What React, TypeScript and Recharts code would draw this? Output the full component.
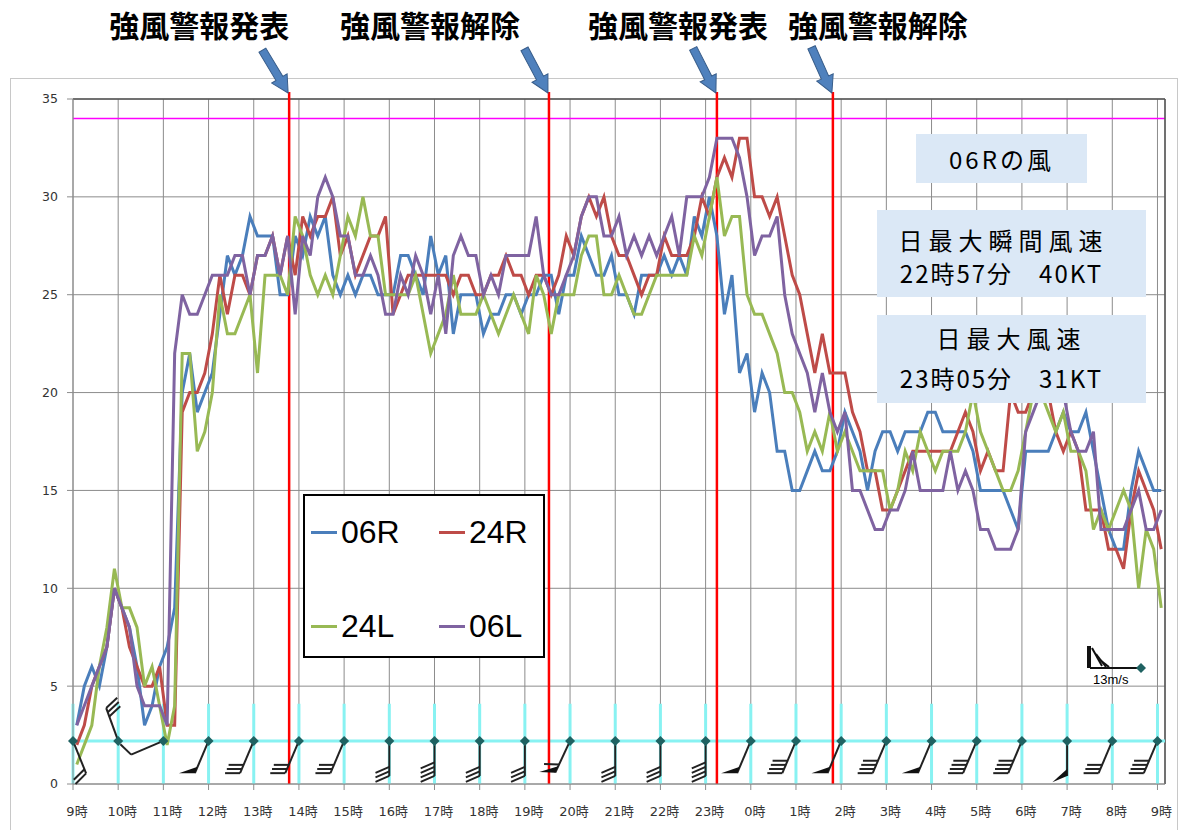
import React from "react";
import {
  ComposedChart,
  Line,
  XAxis,
  YAxis,
  CartesianGrid,
  ReferenceLine,
  ReferenceDot,
} from "recharts";

const HOUR_LABELS = [
  "9時", "10時", "11時", "12時", "13時", "14時", "15時", "16時", "17時", "18時",
  "19時", "20時", "21時", "22時", "23時", "0時", "1時", "2時", "3時", "4時",
  "5時", "6時", "7時", "8時", "9時",
];

// 10分毎の風速 (kt)  9時 -> 翌9時
const WIND_06R = [
  3, 5, 6, 5, 7, 10,
  9, 8, 6, 3, 4, 6,
  7, 9, 20, 22, 19, 20,
  21, 24, 27, 26, 27, 29,
  28, 28, 28, 25, 25, 28,
  27, 29, 28, 29, 26, 25,
  26, 25, 26, 26, 25, 25,
  25, 27, 27, 26, 25, 28,
  26, 27, 23, 25, 25, 25,
  23, 24, 24, 25, 25, 24,
  25, 25, 26, 26, 24, 26,
  26, 28, 27, 26, 26, 27,
  25, 25, 24, 26, 26, 26,
  27, 26, 27, 26, 29, 28,
  30, 28, 24, 26, 21, 22,
  19, 21, 20, 17, 17, 15,
  15, 16, 17, 16, 16, 17,
  19, 18, 17, 15, 17, 18,
  18, 17, 18, 18, 18, 19,
  19, 18, 18, 18, 18, 17,
  15, 15, 15, 15, 14, 13,
  17, 17, 17, 17, 18, 19,
  18, 18, 19, 17, 15, 13,
  12, 12, 15, 17, 16, 15,
  15,
];

const WIND_24R = [
  2, 3, 5, 6, 7, 10,
  9, 7, 6, 5, 5, 6,
  3, 3, 19, 20, 20, 21,
  23, 26, 24, 26, 26, 25,
  27, 27, 28, 26, 28, 26,
  29, 28, 29, 29, 30, 27,
  28, 26, 27, 28, 28, 29,
  24, 25, 26, 26, 26, 26,
  26, 26, 25, 26, 26, 25,
  25, 26, 26, 27, 26, 26,
  25, 26, 26, 25, 26, 28,
  27, 29, 30, 29, 30, 28,
  27, 27, 26, 25, 26, 26,
  28, 27, 27, 27, 28, 30,
  29, 31, 32, 31, 33, 33,
  30, 30, 29, 30, 28, 26,
  25, 23, 21, 23, 21, 21,
  21, 19, 18, 16, 16, 14,
  14, 15, 16, 17, 17, 17,
  17, 17, 17, 18, 19, 18,
  16, 17, 16, 16, 20, 19,
  19, 20, 21, 20, 18, 17,
  18, 17, 14, 14, 14, 12,
  12, 11, 14, 16, 15, 14,
  12,
];

const WIND_24L = [
  1, 2, 3, 6, 8, 11,
  9, 9, 8, 5, 6, 4,
  2, 4, 22, 22, 17, 18,
  20, 25, 23, 23, 24, 25,
  21, 26, 26, 26, 25, 29,
  28, 26, 25, 26, 25, 27,
  29, 28, 30, 28, 28, 25,
  25, 25, 25, 26, 24, 22,
  23, 24, 26, 24, 24, 24,
  25, 24, 23, 24, 25, 24,
  23, 26, 25, 23, 25, 25,
  25, 27, 28, 28, 25, 25,
  26, 25, 24, 24, 25, 26,
  26, 26, 26, 26, 28, 27,
  29, 31, 28, 29, 29, 25,
  24, 24, 23, 22, 20, 20,
  19, 17, 18, 17, 19, 17,
  18, 17, 16, 16, 16, 16,
  14, 15, 17, 16, 18, 17,
  16, 17, 17, 17, 18, 20,
  18, 17, 16, 15, 15, 16,
  18, 20, 20, 19, 18, 19,
  17, 17, 16, 13, 14, 13,
  14, 15, 14, 10, 13, 12,
  9,
];

const WIND_06L = [
  3, 4, 5, 6, 7, 10,
  9, 8, 5, 4, 4, 4,
  3, 22, 25, 24, 24, 25,
  26, 26, 26, 27, 27, 25,
  27, 27, 28, 26, 28, 24,
  28, 27, 30, 31, 30, 28,
  28, 26, 26, 27, 26, 24,
  24, 26, 25, 27, 26, 24,
  26, 23, 27, 28, 27, 27,
  25, 26, 25, 27, 27, 27,
  27, 29, 26, 25, 25, 26,
  27, 29, 30, 30, 28, 28,
  29, 27, 28, 27, 28, 27,
  28, 29, 27, 30, 30, 30,
  31, 33, 33, 33, 32, 30,
  27, 28, 28, 29, 25, 23,
  22, 21, 19, 21, 19, 18,
  19, 15, 15, 14, 13, 13,
  14, 14, 15, 17, 15, 15,
  15, 15, 17, 15, 16, 15,
  13, 13, 12, 12, 12, 13,
  18, 19, 20, 21, 21, 20,
  18, 17, 17, 18, 13, 13,
  13, 13, 14, 15, 13, 13,
  14,
];

const Y_TICKS = [0, 5, 10, 15, 20, 25, 30, 35];
const LIMIT_KT = 34;

const WARNINGS = [
  { label: "強風警報発表", time: "13:47" },
  { label: "強風警報解除", time: "19:32" },
  { label: "強風警報発表", time: "23:15" },
  { label: "強風警報解除", time: "01:49" },
];

// 毎正時の矢羽根 (風向 deg, 旗, 羽根数)
const BARB_DIR = [158, 340, 247, 203, 203, 203, 203, 180, 180, 180, 180, 205, 180, 180, 180, 203, 203, 203, 203, 203, 203, 203, 180, 203, 203];
const BARB_FLAG = [0, 0, 0, 1, 0, 0, 0, 0, 0, 0, 0, 1, 0, 0, 0, 1, 0, 1, 0, 1, 0, 0, 1, 0, 0];
const BARB_LINES = [2, 3, 1, 0, 3, 3, 3, 3, 4, 3, 3, 1, 3, 3, 4, 0, 4, 0, 4, 0, 4, 4, 0, 3, 4];
const BARB_LEVEL = 2.2;
const BARB_MAST = 4.1;

const SERIES = [
  { key: "r06", name: "06R", color: "#4a7ebb" },
  { key: "r24", name: "24R", color: "#be4b48" },
  { key: "l24", name: "24L", color: "#98b954" },
  { key: "l06", name: "06L", color: "#7f63a1" },
];

// label / arrow placement for each warning mark
const WARN_TEXT_DX = [-90, -119, -39, 45];
const WARN_ARROW_DEG = [31, 28, 27, 24];

const CJK = "'Noto Sans CJK JP', 'Noto Sans', sans-serif";
const TICK_FONT = "'DejaVu Sans', 'Noto Sans CJK JP', sans-serif";

const data = WIND_06R.map((v, i) => ({
  i,
  r06: v,
  r24: WIND_24R[i],
  l24: WIND_24L[i],
  l06: WIND_06L[i],
}));

const hourX = (k: number) => k * 6 - 0.5;
const slotOf = (hhmm: string) => {
  const [h, m] = hhmm.split(":").map(Number);
  const min = (h * 60 + m - 9 * 60 + 1440) % 1440;
  return min / 10 - 0.5;
};

function HourTick(props: any) {
  const { x, y, payload } = props;
  const label = HOUR_LABELS[Math.round((payload.value + 0.5) / 6)];
  return (
    <text x={x + 4} y={y + 26} textAnchor="middle" fontSize={13} fill="#333" fontFamily={TICK_FONT}>
      {label}
    </text>
  );
}

function WarningMark(props: any) {
  const { viewBox, idx } = props;
  if (!viewBox) return null;
  const { x, y } = viewBox;
  return (
    <g>
      <line x1={x} y1={y - 7} x2={x} y2={y} stroke="#ff0000" strokeWidth={2.5} />
      <g transform={`translate(${x - 1}, ${y - 6}) rotate(${-WARN_ARROW_DEG[idx]})`}>
        <polygon
          points="-4,-50 4,-50 4,-17 9,-17 0,0 -9,-17 -4,-17"
          fill="#4f81bd"
          stroke="#385d8a"
          strokeWidth={1}
        />
      </g>
      <text
        x={x + WARN_TEXT_DX[idx]}
        y={y - 62}
        textAnchor="middle"
        fontSize={30}
        fontWeight={700}
        fontFamily={CJK}
        fill="#000"
      >
        {WARNINGS[idx].label}
      </text>
    </g>
  );
}

function WindBarb(props: any) {
  const { cx, cy, k } = props;
  if (cx == null || cy == null) return null;
  const a = (BARB_DIR[k] * Math.PI) / 180;
  const ux = Math.sin(a);
  const uy = -Math.cos(a);
  const r = (67 * Math.PI) / 180;
  const fx = ux * Math.cos(r) - uy * Math.sin(r);
  const fy = ux * Math.sin(r) + uy * Math.cos(r);
  const L = 35;
  const ex = cx + ux * L;
  const ey = cy + uy * L;
  const parts: React.ReactNode[] = [];
  parts.push(<line key="s" x1={cx} y1={cy} x2={ex} y2={ey} stroke="#222" strokeWidth={2} />);
  let off = 0;
  if (BARB_FLAG[k]) {
    parts.push(
      <polygon
        key="f"
        points={`${ex},${ey} ${ex + fx * 16},${ey + fy * 16} ${ex - ux * 7},${ey - uy * 7}`}
        fill="#111"
      />
    );
    off = 9;
  }
  for (let j = 0; j < BARB_LINES[k]; j++) {
    const bx = ex - ux * (off + j * 4.5);
    const by = ey - uy * (off + j * 4.5);
    parts.push(
      <line key={j} x1={bx} y1={by} x2={bx + fx * 15} y2={by + fy * 15} stroke="#222" strokeWidth={2} />
    );
  }
  parts.push(
    <polygon
      key="d"
      points={`${cx},${cy - 5} ${cx + 5},${cy} ${cx},${cy + 5} ${cx - 5},${cy}`}
      fill="#1f6262"
    />
  );
  return <g>{parts}</g>;
}

const boxBase: React.CSSProperties = {
  position: "absolute",
  background: "#dbe8f6",
  color: "#000",
  fontFamily: CJK,
  fontSize: 24,
  textAlign: "center",
  whiteSpace: "nowrap",
};

export default function App() {
  return (
    <div
      style={{
        position: "fixed",
        left: 0,
        top: 0,
        width: 1186,
        height: 830,
        overflow: "hidden",
        background: "#fff",
      }}
    >
      <div
        style={{
          position: "absolute",
          left: 10,
          top: 78,
          width: 1166,
          height: 770,
          border: "1px solid #c8c8c8",
        }}
      />
      <div style={{ position: "absolute", left: 0, top: 0 }}>
        <ComposedChart
          width={1186}
          height={830}
          data={data}
          margin={{ top: 99, right: 21, bottom: 16, left: 33 }}
        >
          <CartesianGrid stroke="#8c8c8c" strokeWidth={1} />
          <XAxis
            type="number"
            dataKey="i"
            domain={[-0.5, 144.5]}
            ticks={HOUR_LABELS.map((_, k) => hourX(k))}
            interval={0}
            tick={<HourTick />}
            tickSize={6}
            tickMargin={0}
            height={30}
            stroke="#8c8c8c"
          />
          <YAxis
            type="number"
            domain={[0, 35]}
            ticks={Y_TICKS}
            interval={0}
            width={40}
            tickSize={6}
            tickMargin={9}
            tick={{ fontSize: 12.5, fill: "#333", fontFamily: TICK_FONT }}
            stroke="#8c8c8c"
          />
          <ReferenceLine y={LIMIT_KT} stroke="#ff00ff" strokeWidth={1.5} />
          <ReferenceLine y={35} stroke="#555" strokeWidth={1.5} />
          <ReferenceLine x={144.5} stroke="#555" strokeWidth={1.5} ifOverflow="visible" />
          <ReferenceLine y={BARB_LEVEL} stroke="#88f2f2" strokeWidth={3} />
          {HOUR_LABELS.map((_, k) => (
            <ReferenceLine
              key={`mast${k}`}
              segment={[
                { x: hourX(k), y: 0 },
                { x: hourX(k), y: BARB_MAST },
              ]}
              stroke="#88f2f2"
              strokeWidth={3}
              ifOverflow="visible"
            />
          ))}
          {HOUR_LABELS.map((_, k) => (
            <ReferenceDot
              key={`barb${k}`}
              x={hourX(k)}
              y={BARB_LEVEL}
              r={0}
              ifOverflow="visible"
              shape={(p: any) => <WindBarb {...p} k={k} />}
            />
          ))}
          {WARNINGS.map((w, idx) => (
            <ReferenceLine
              key={`warn${idx}`}
              x={slotOf(w.time)}
              stroke="#ff0000"
              strokeWidth={2.5}
              label={(p: any) => <WarningMark {...p} idx={idx} />}
            />
          ))}
          {SERIES.map((s) => (
            <Line
              key={s.key}
              type="linear"
              dataKey={s.key}
              name={s.name}
              stroke={s.color}
              strokeWidth={3}
              dot={false}
              activeDot={false}
              isAnimationActive={false}
            />
          ))}
        </ComposedChart>
      </div>

      {/* legend */}
      <div
        style={{
          position: "absolute",
          left: 303,
          top: 494,
          width: 238,
          height: 160,
          border: "2px solid #000",
          background: "#fff",
        }}
      >
        {SERIES.map((s, idx) => (
          <div
            key={s.key}
            style={{
              position: "absolute",
              left: idx % 2 === 0 ? 6 : 134,
              top: (idx < 2 ? 36 : 130) - 20,
              height: 40,
              display: "flex",
              alignItems: "center",
            }}
          >
            <span style={{ display: "inline-block", width: 26, height: 3, background: s.color }} />
            <span
              style={{
                marginLeft: 4,
                fontSize: 32,
                fontFamily: "'Liberation Sans', Arial, sans-serif",
                color: "#000",
              }}
            >
              {s.name}
            </span>
          </div>
        ))}
      </div>

      {/* annotations */}
      <div style={{ ...boxBase, left: 916, top: 134, width: 171, height: 49, lineHeight: "49px", letterSpacing: 3 }}>
        06Rの風
      </div>
      <div style={{ ...boxBase, left: 877, top: 210, width: 269, height: 87, paddingTop: 13, boxSizing: "border-box", lineHeight: "33px" }}>
        <div style={{ letterSpacing: 6, transform: "translateX(-8px)" }}>日最大瞬間風速</div>
        <div style={{ letterSpacing: 2, transform: "translateX(-10px)" }}>22時57分　40KT</div>
      </div>
      <div style={{ ...boxBase, left: 877, top: 315, width: 269, height: 88, paddingTop: 3, boxSizing: "border-box", lineHeight: "40px" }}>
        <div style={{ letterSpacing: 6 }}>日最大風速</div>
        <div style={{ letterSpacing: 2, transform: "translateX(-10px)" }}>23時05分　31KT</div>
      </div>

      {/* barb scale */}
      <svg style={{ position: "absolute", left: 1080, top: 640 }} width={80} height={50}>
        <line x1={10} y1={28} x2={61} y2={28} stroke="#111" strokeWidth={2} />
        <line x1={9} y1={6} x2={9} y2={28} stroke="#111" strokeWidth={4} />
        <line x1={12} y1={8} x2={22} y2={26} stroke="#111" strokeWidth={2} />
        <line x1={16} y1={14} x2={26} y2={27} stroke="#111" strokeWidth={2} />
        <line x1={20} y1={20} x2={29} y2={27} stroke="#111" strokeWidth={2} />
        <polygon points="61,23 66,28 61,33 56,28" fill="#1f6262" />
        <text x={13} y={44} fontSize={13} fontFamily="'Liberation Sans', Arial, sans-serif" fill="#000">
          13m/s
        </text>
      </svg>
    </div>
  );
}
